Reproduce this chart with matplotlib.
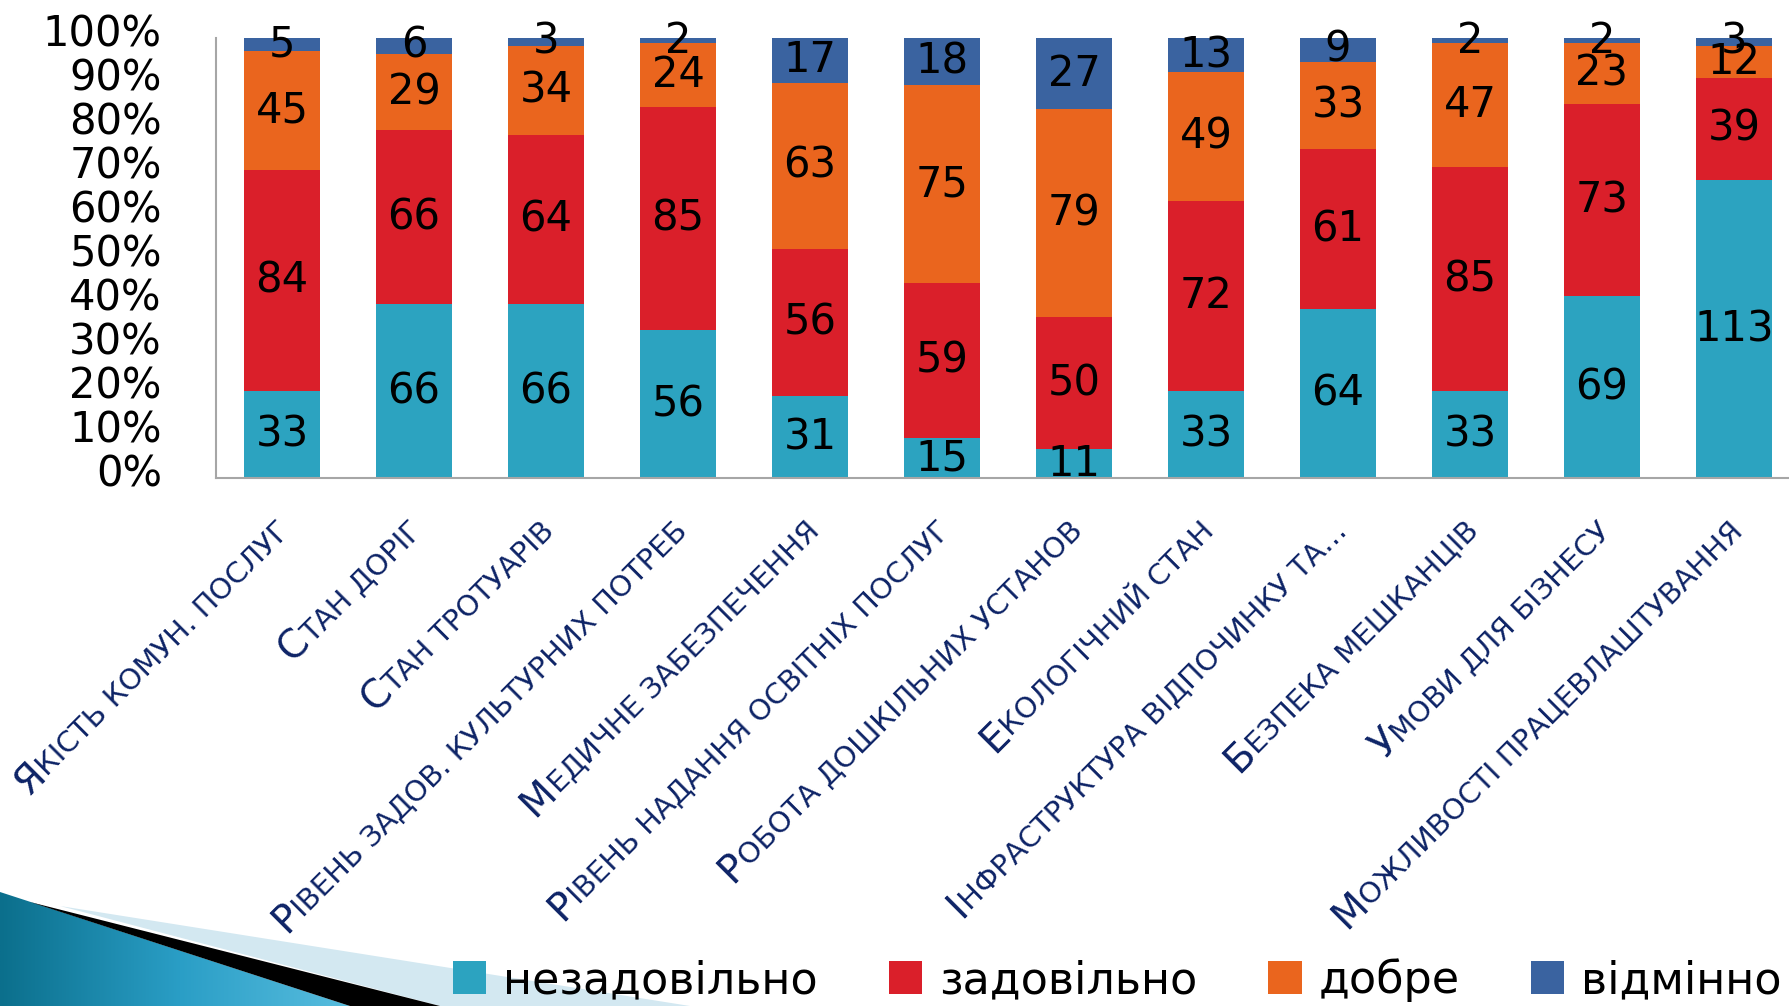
import numpy as np
import matplotlib
matplotlib.use("Agg")
import matplotlib.pyplot as plt
from matplotlib.patches import Patch, Polygon
from matplotlib.transforms import ScaledTranslation, blended_transform_factory

# -----------------------------------------
# Data
# -----------------------------------------

categories = [
    "Якість комун. послуг",
    "Стан доріг",
    "Стан тротуарів",
    "Рівень задов. культурних потреб",
    "Медичне забезпечення",
    "Рівень надання освітніх послуг",
    "Робота дошкільних установ",
    "Екологічний стан",
    "Інфраструктура відпочинку та…",
    "Безпека мешканців",
    "Умови для бізнесу",
    "Можливості працевлаштування",
]

series_names = ["незадовільно", "задовільно", "добре", "відмінно"]

bad = [33, 66, 66, 56, 31, 15, 11, 33, 64, 33, 69, 113]
ok = [84, 66, 64, 85, 56, 59, 50, 72, 61, 85, 73, 39]
good = [45, 29, 34, 24, 63, 75, 79, 49, 33, 47, 23, 12]
excellent = [5, 6, 3, 2, 17, 18, 27, 13, 9, 2, 2, 3]

y_ticks = list(range(0, 101, 10))

colors = ["#2CA3C0", "#DA1F2A", "#EA651E", "#3A63A0"]
navy = "#0D2366"

# -----------------------------------------
# Figure
# -----------------------------------------

W, H, DPI = 1790, 1006, 100
fig = plt.figure(figsize=(W / DPI, H / DPI), dpi=DPI)
fig.patch.set_facecolor("white")

# bottom-left slide decoration
deco = fig.add_axes([0, 0, 1, 1], zorder=0)
deco.set_xlim(0, W)
deco.set_ylim(H, 0)
deco.axis("off")
grad = np.linspace(0, 1, 256).reshape(1, -1)
img = deco.imshow(grad, extent=[0, 360, H, 880], cmap=matplotlib.colors.LinearSegmentedColormap.from_list(
    "teal", ["#0B6F8C", "#2A9EC6", "#5BBFE0"]), aspect="auto", zorder=1)
teal_poly = Polygon([(0, 892), (350, H), (0, H)], closed=True, facecolor="none", edgecolor="none")
deco.add_patch(teal_poly)
img.set_clip_path(teal_poly)
deco.add_patch(Polygon([(30, 902), (440, H), (350, H)], closed=True, facecolor="black", edgecolor="none", zorder=2))
deco.add_patch(Polygon([(60, 906), (690, H), (440, H)], closed=True, facecolor="#D3E8F1", edgecolor="none", zorder=1))

ax = fig.add_axes([216 / W, 1 - 478 / H, 1584 / W, 440 / H], zorder=2)
ax.patch.set_alpha(0)

x = np.arange(len(categories))
data = np.array([bad, ok, good, excellent], dtype=float)
totals = data.sum(axis=0)
pct = data / totals * 100

bottom = np.zeros(len(categories))
for name, vals, p, c in zip(series_names, data, pct, colors):
    bars = ax.bar(x, p, bottom=bottom, width=0.58, color=c, edgecolor="none", label=name)
    ax.bar_label(bars, labels=[f"{int(v)}" for v in vals], label_type="center",
                 fontsize=30, color="black")
    bottom += p

ax.set_xlim(-0.5, len(categories) - 0.5)
ax.set_ylim(0, 100)
ax.set_yticks(y_ticks)
ax.set_yticklabels([f"{t}%" for t in y_ticks])
ax.set_xticks([])
ax.tick_params(axis="y", length=0, pad=39, labelsize=30, labelcolor="black")

# reference labels sit a few pixels above their grid positions
lift = ScaledTranslation(0, 8 / DPI, fig.dpi_scale_trans)
for lbl in ax.get_yticklabels():
    lbl.set_transform(lbl.get_transform() + lift)

for side in ["top", "right"]:
    ax.spines[side].set_visible(False)
for side in ["left", "bottom"]:
    ax.spines[side].set_color("#A6A6A6")
    ax.spines[side].set_linewidth(1.5)

# -----------------------------------------
# Category labels in small caps (first letter larger)
# -----------------------------------------

fig.canvas.draw()
renderer = fig.canvas.get_renderer()

small_size = 21
big_size = 28
cos45 = np.cos(np.radians(45))
base = blended_transform_factory(ax.transData, ax.transAxes) + \
    ScaledTranslation(10 / DPI, -54 / DPI, fig.dpi_scale_trans)

for i, name in enumerate(categories):
    head, tail = name[0], name[1:].upper()
    ax.text(i, 0, tail, transform=base, rotation=45, rotation_mode="anchor",
            ha="right", va="baseline", fontsize=small_size, color=navy, clip_on=False)
    tmp = ax.text(0, 0, tail, fontsize=small_size)
    w = tmp.get_window_extent(renderer).width
    tmp.remove()
    shift = ScaledTranslation(-w * cos45 / DPI, -w * cos45 / DPI, fig.dpi_scale_trans)
    ax.text(i, 0, head, transform=base + shift, rotation=45, rotation_mode="anchor",
            ha="right", va="baseline", fontsize=big_size, color=navy, clip_on=False)

# -----------------------------------------
# Legend
# -----------------------------------------

handles = [Patch(facecolor=c, edgecolor="none", label=n) for n, c in zip(series_names, colors)]
fig.legend(handles=handles, loc="center", bbox_to_anchor=(1117 / W, 26 / H), ncol=4,
           frameon=False, fontsize=32, handlelength=0.75, handleheight=0.75,
           handletextpad=0.38, columnspacing=1.6, borderpad=0, borderaxespad=0)

fig.savefig("out.png", dpi=DPI)
